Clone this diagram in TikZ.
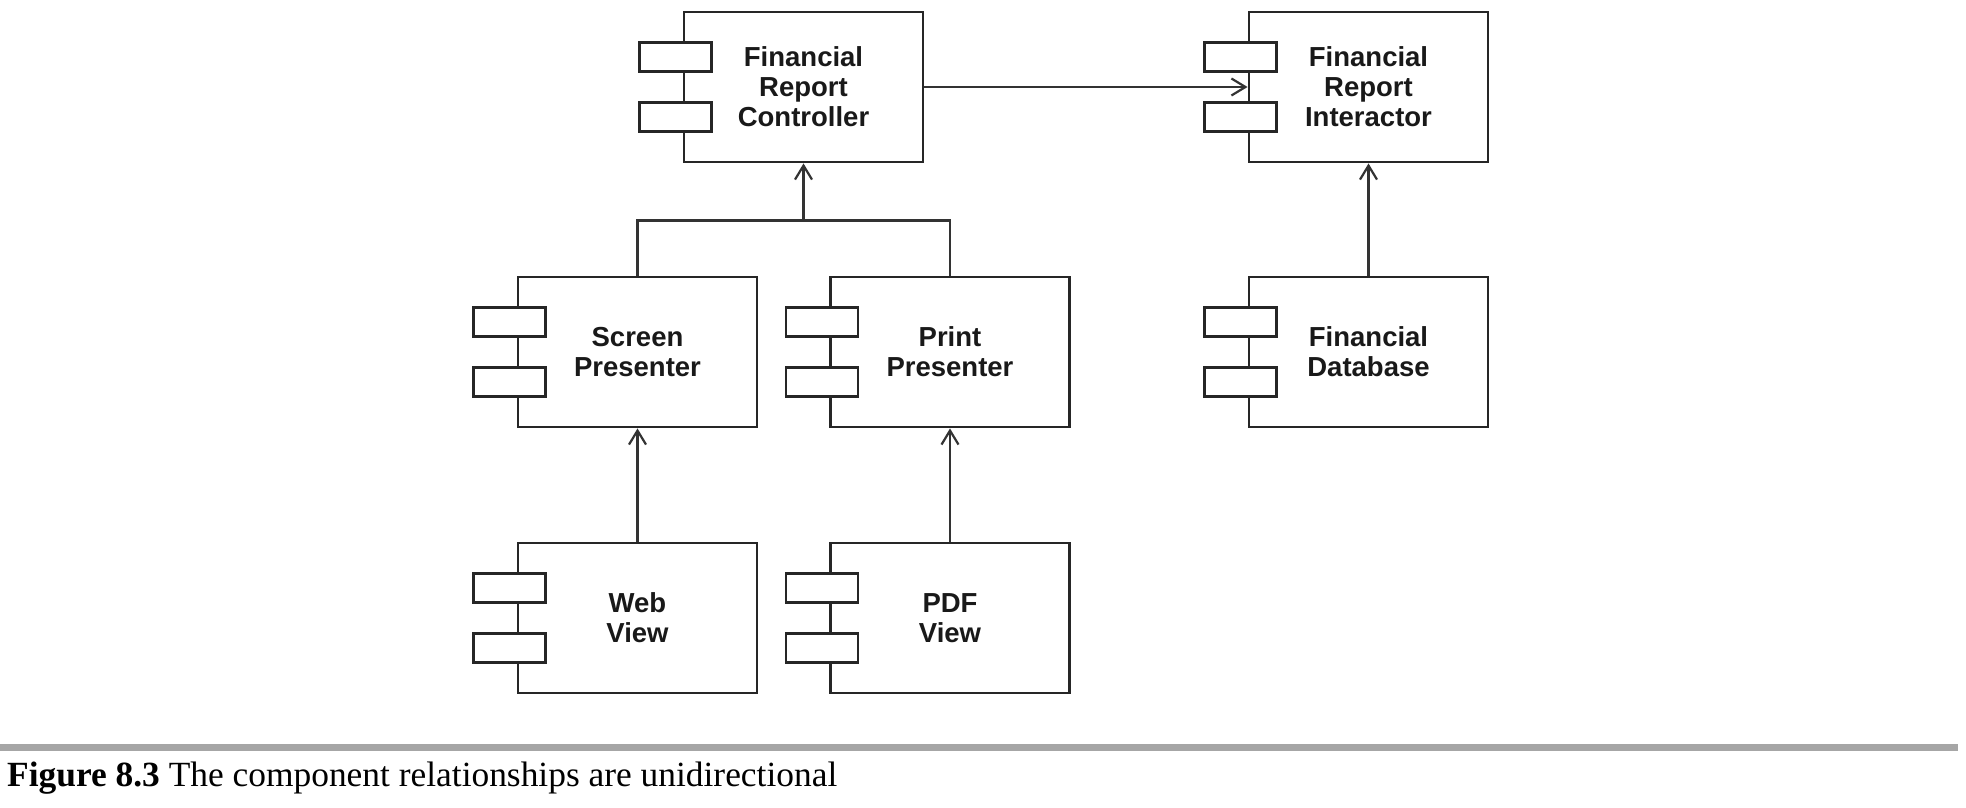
\documentclass[tikz,border=0pt]{standalone}
\usepackage{fontspec}
\setmainfont{Liberation Serif}
\newfontfamily\boxfont{Liberation Sans}
\usetikzlibrary{arrows.meta,calc}
\begin{document}
\begin{tikzpicture}[x=1pt,y=-1pt,
 comp/.style={draw=black!85, line width=2.9pt, minimum width=239pt, minimum height=150pt, inner sep=0pt, align=center, font=\boxfont\bfseries\fontsize{27.5}{30}\selectfont, text=black!90},
 port/.style={draw=black!85, fill=white, line width=2.6pt, minimum width=72pt, minimum height=29pt, inner sep=0pt},
 link/.style={draw=black!80, line width=2.2pt},
 dep/.style={link, -{Straight Barb[length=14pt, width=17pt]}}]
\useasboundingbox[fill=white] (0,0) rectangle (1966,808);

\node[comp] (ctrl) at (803.5,87) {Financial\\Report\\Controller};
\node[comp] (inter) at (1368.5,87) {Financial\\Report\\Interactor};
\node[comp] (screen) at (637.5,352) {Screen\\Presenter};
\node[comp] (print) at (950,352) {Print\\Presenter};
\node[comp] (db) at (1368.5,352) {Financial\\Database};
\node[comp] (web) at (637.5,618) {Web\\View};
\node[comp] (pdf) at (950,618) {PDF\\View};

\foreach \b in {ctrl,inter,screen,print,db,web,pdf} {
  \node[port] (\b-p1) at ($(\b.west)+(-7,-30)$) {};
  \node[port] (\b-p2) at ($(\b.west)+(-7,30)$) {};
}

\coordinate (junc) at ($(ctrl.south)+(0,57)$);
\draw[link] (screen.north) |- (junc);
\draw[link] (print.north) |- (junc);
\draw[dep] (junc) -- (ctrl.south);
\draw[dep] (ctrl.east) -- (inter.west);
\draw[dep] (web.north) -- (screen.south);
\draw[dep] (pdf.north) -- (print.south);
\draw[dep] (db.north) -- (inter.south);

\fill[black!35] (0,744) rectangle (1958,751);
\node[anchor=base west, inner sep=0pt, font=\fontsize{35.4}{40}\selectfont] (cap) at (7,786) {\textbf{Figure 8.3} The component relationships are unidirectional};
\end{tikzpicture}
\end{document}
